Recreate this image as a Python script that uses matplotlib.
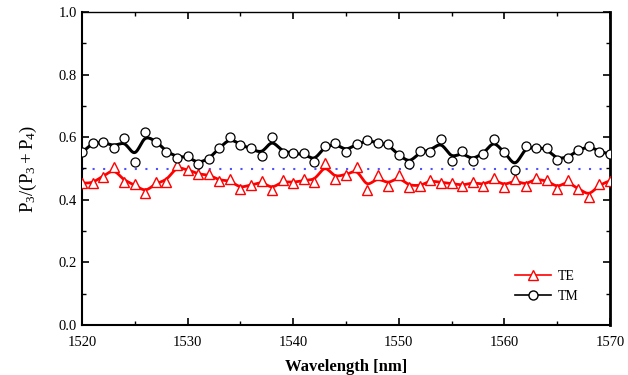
import numpy as np
import matplotlib
matplotlib.use("Agg")
import matplotlib.pyplot as plt
from matplotlib.ticker import MultipleLocator

wavelength = np.arange(1520, 1571)
te = [0.453, 0.453, 0.474, 0.504, 0.458, 0.450, 0.421, 0.456, 0.458, 0.511,
      0.495, 0.481, 0.482, 0.460, 0.465, 0.435, 0.447, 0.461, 0.431, 0.463,
      0.453, 0.465, 0.456, 0.519, 0.466, 0.479, 0.506, 0.431, 0.479, 0.445,
      0.479, 0.442, 0.444, 0.463, 0.455, 0.453, 0.444, 0.458, 0.445, 0.469,
      0.442, 0.466, 0.445, 0.469, 0.463, 0.435, 0.463, 0.435, 0.410, 0.450,
      0.460]
tm = [0.554, 0.582, 0.586, 0.566, 0.597, 0.522, 0.618, 0.585, 0.554, 0.535,
      0.541, 0.514, 0.530, 0.565, 0.600, 0.575, 0.565, 0.541, 0.600, 0.549,
      0.549, 0.549, 0.520, 0.573, 0.581, 0.554, 0.578, 0.591, 0.581, 0.578,
      0.543, 0.514, 0.556, 0.554, 0.593, 0.525, 0.556, 0.525, 0.546, 0.593,
      0.554, 0.495, 0.573, 0.566, 0.565, 0.527, 0.535, 0.559, 0.573, 0.554,
      0.546]
ref_level = 0.5
legend_labels = ["TE", "TM"]


def smooth_curve(x, y, n=12):
    x = np.asarray(x, float)
    y = np.asarray(y, float)
    ys = y.copy()
    ys[1:-1] = 0.17 * y[:-2] + 0.66 * y[1:-1] + 0.17 * y[2:]
    p = np.concatenate([[ys[0]], ys, [ys[-1]]])
    xs, out = [], []
    for i in range(len(x) - 1):
        t = np.linspace(0, 1, n, endpoint=False)
        p0, p1, p2, p3 = p[i], p[i + 1], p[i + 2], p[i + 3]
        seg = 0.5 * ((2 * p1) + (-p0 + p2) * t + (2 * p0 - 5 * p1 + 4 * p2 - p3) * t ** 2
                     + (-p0 + 3 * p1 - 3 * p2 + p3) * t ** 3)
        xs.append(x[i] + t * (x[i + 1] - x[i]))
        out.append(seg)
    xs.append([x[-1]])
    out.append([ys[-1]])
    return np.concatenate(xs), np.concatenate(out)


plt.rcParams['font.family'] = ['Liberation Serif', 'DejaVu Serif']
plt.rcParams['mathtext.fontset'] = 'custom'
plt.rcParams['mathtext.rm'] = 'Liberation Serif'
plt.rcParams['mathtext.it'] = 'Liberation Serif'

fig = plt.figure(figsize=(6.28, 3.75), dpi=100)
ax = fig.add_axes([82 / 628, 50 / 375, 528 / 628, 313 / 375])

ax.axhline(ref_level, color='#5050ff', linestyle=(0, (1, 4.07)), linewidth=1.5, zorder=1)

xs, ys = smooth_curve(wavelength, te)
ax.plot(xs, ys, color='red', linewidth=2.0, zorder=2)
ax.plot(wavelength, te, linestyle='none', marker='^', markersize=7,
        markerfacecolor='white', markeredgecolor='red', markeredgewidth=1.0, zorder=3)

xs, ys = smooth_curve(wavelength, tm)
ax.plot(xs, ys, color='black', linewidth=2.2, zorder=2)
ax.plot(wavelength, tm, linestyle='none', marker='o', markersize=6.5,
        markerfacecolor='white', markeredgecolor='black', markeredgewidth=0.9, zorder=3)

# legend proxies
h1, = ax.plot([], [], color='red', linewidth=1.2, marker='^', markersize=7,
              markerfacecolor='white', markeredgecolor='red')
h2, = ax.plot([], [], color='black', linewidth=1.2, marker='o', markersize=6.5,
              markerfacecolor='white', markeredgecolor='black')
ax.legend([h1, h2], legend_labels, loc='lower right', frameon=False, fontsize=10,
          handlelength=2.6, bbox_to_anchor=(0.965, 0.03), labelspacing=0.5,
          handletextpad=0.5)

ax.set_xlim(1520, 1570)
ax.set_ylim(0.0, 1.0)
ax.xaxis.set_major_locator(MultipleLocator(10))
ax.xaxis.set_minor_locator(MultipleLocator(5))
ax.yaxis.set_major_locator(MultipleLocator(0.2))
ax.yaxis.set_minor_locator(MultipleLocator(0.1))
ax.yaxis.set_major_formatter(matplotlib.ticker.FormatStrFormatter('%.1f'))
ax.tick_params(which='both', direction='in', top=True, right=True, labelsize=10.5)
ax.tick_params(which='major', length=5, width=1.2)
ax.tick_params(which='minor', length=3, width=1.0)
ax.tick_params(axis='x', pad=8)
for side, w in [('left', 1.5), ('bottom', 1.5), ('right', 2.0), ('top', 1.0)]:
    ax.spines[side].set_linewidth(w)

ax.set_xlabel('Wavelength [nm]', fontsize=12, fontweight='bold', labelpad=7)
ax.set_ylabel(r'$\mathrm{P}_3/(\mathrm{P}_3+\mathrm{P}_4)$', fontsize=13.5, labelpad=14)

fig.savefig('out.png', dpi=100)
